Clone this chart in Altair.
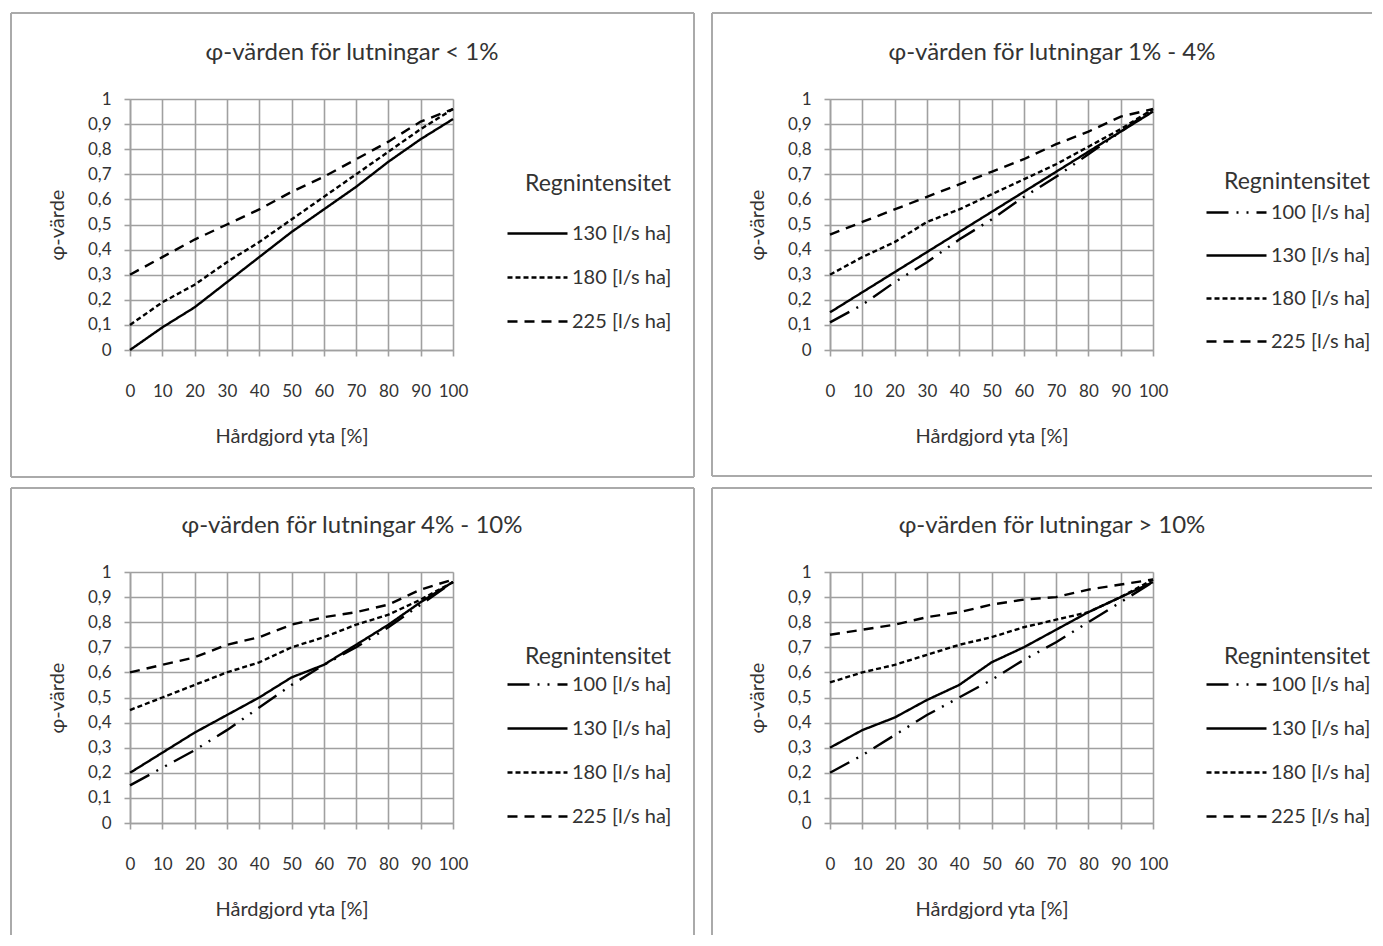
import altair as alt
import pandas as pd

X = [0, 10, 20, 30, 40, 50, 60, 70, 80, 90, 100]

TITLES = [
    "φ-värden för lutningar < 1%",
    "φ-värden för lutningar 1% - 4%",
    "φ-värden för lutningar  4% - 10%",
    "φ-värden för lutningar > 10%",
]

SERIES_LABELS = ["100 [l/s ha]", "130 [l/s ha]", "180 [l/s ha]", "225 [l/s ha]"]

# panel 1: < 1%
P1_130 = [0.00, 0.09, 0.17, 0.27, 0.37, 0.47, 0.56, 0.65, 0.75, 0.84, 0.92]
P1_180 = [0.10, 0.19, 0.26, 0.35, 0.43, 0.52, 0.61, 0.70, 0.79, 0.88, 0.96]
P1_225 = [0.30, 0.37, 0.44, 0.50, 0.56, 0.63, 0.69, 0.76, 0.83, 0.91, 0.96]

# panel 2: 1% - 4%
P2_100 = [0.11, 0.18, 0.27, 0.35, 0.44, 0.52, 0.61, 0.69, 0.78, 0.87, 0.96]
P2_130 = [0.15, 0.23, 0.31, 0.39, 0.47, 0.55, 0.63, 0.71, 0.79, 0.87, 0.95]
P2_180 = [0.30, 0.37, 0.43, 0.51, 0.56, 0.62, 0.68, 0.74, 0.81, 0.88, 0.96]
P2_225 = [0.46, 0.51, 0.56, 0.61, 0.66, 0.71, 0.76, 0.82, 0.87, 0.93, 0.96]

# panel 3: 4% - 10%
P3_100 = [0.15, 0.22, 0.29, 0.37, 0.46, 0.55, 0.63, 0.70, 0.78, 0.87, 0.96]
P3_130 = [0.20, 0.28, 0.36, 0.43, 0.50, 0.58, 0.63, 0.71, 0.79, 0.88, 0.96]
P3_180 = [0.45, 0.50, 0.55, 0.60, 0.64, 0.70, 0.74, 0.79, 0.83, 0.89, 0.96]
P3_225 = [0.60, 0.63, 0.66, 0.71, 0.74, 0.79, 0.82, 0.84, 0.87, 0.93, 0.97]

# panel 4: > 10%
P4_100 = [0.20, 0.27, 0.35, 0.43, 0.50, 0.57, 0.65, 0.72, 0.80, 0.88, 0.96]
P4_130 = [0.30, 0.37, 0.42, 0.49, 0.55, 0.64, 0.70, 0.77, 0.84, 0.90, 0.96]
P4_180 = [0.56, 0.60, 0.63, 0.67, 0.71, 0.74, 0.78, 0.81, 0.84, 0.90, 0.97]
P4_225 = [0.75, 0.77, 0.79, 0.82, 0.84, 0.87, 0.89, 0.90, 0.93, 0.95, 0.97]

DASHES = {
    "100 [l/s ha]": [22, 8, 2, 8, 2, 8],
    "130 [l/s ha]": [1, 0],
    "180 [l/s ha]": [5, 3],
    "225 [l/s ha]": [10, 7],
}

FONT = "Lato"
TXT = "#333333"
GRID = "#a0a0a0"
FRAME = "#aaaaaa"
W, H = 323, 251


def make_panel(title, series, frame, legend_x, legend_y, legend_title_pad, row_pad):
    rows = []
    for label, vals in series:
        for xv, yv in zip(X, vals):
            rows.append({"x": xv, "y": yv, "serie": label})
    df = pd.DataFrame(rows)
    labels = [s[0] for s in series]

    lines = alt.Chart(df).mark_line(color="black", strokeWidth=2.4).encode(
        x=alt.X(
            "x:Q",
            scale=alt.Scale(domain=[0, 100], nice=False),
            axis=alt.Axis(
                values=X, title="Hårdgjord yta [%]", grid=True, gridColor=GRID,
                gridWidth=1.6, domainColor=GRID, domainWidth=1.6, tickColor=GRID,
                tickWidth=1.6, tickSize=6, labelPadding=27, titlePadding=27,
                labelOverlap=False, labelFlush=False, labelFont=FONT, labelFontSize=17,
                labelColor=TXT, titleFont=FONT, titleFontSize=20,
                titleFontWeight="normal", titleColor=TXT,
            ),
        ),
        y=alt.Y(
            "y:Q",
            scale=alt.Scale(domain=[0, 1], nice=False),
            axis=alt.Axis(
                values=[0, 0.1, 0.2, 0.3, 0.4, 0.5, 0.6, 0.7, 0.8, 0.9, 1.0],
                labelExpr="datum.value == 0 ? '0' : datum.value == 1 ? '1' : replace(format(datum.value, '.1f'), '.', ',')",
                title="φ-värde", grid=True, gridColor=GRID, gridWidth=1.6,
                domainColor=GRID, domainWidth=1.6, tickColor=GRID, tickWidth=1.6,
                tickSize=6, labelPadding=13, labelFlush=False, titlePadding=20,
                labelFont=FONT, labelFontSize=17, labelColor=TXT,
                titleFont=FONT, titleFontSize=20, titleFontWeight="normal", titleColor=TXT,
            ),
        ),
        strokeDash=alt.StrokeDash(
            "serie:N",
            scale=alt.Scale(domain=labels, range=[DASHES[l] for l in labels]),
            sort=labels,
            legend=alt.Legend(
                title="Regnintensitet", orient="none", legendX=legend_x, legendY=legend_y,
                padding=0, symbolType="stroke", symbolSize=3600, symbolStrokeWidth=2.6,
                symbolStrokeColor="black", labelFont=FONT, labelFontSize=20,
                labelColor=TXT, labelOffset=3, titleFont=FONT, titleFontSize=23,
                titleFontWeight="normal", titleColor=TXT, titleAnchor="end",
                titlePadding=legend_title_pad, rowPadding=row_pad,
            ),
        ),
        order="x:Q",
    )

    deco = pd.DataFrame({"t": [title]})
    title_mark = alt.Chart(deco).mark_text(
        font=FONT, fontSize=24, color=TXT, align="center", baseline="middle"
    ).encode(text="t:N", x=alt.value(frame["title_x"]), y=alt.value(-46))

    layers = [lines, title_mark]
    fl, ft, fr, fb = frame["l"], frame["t"], frame["r"], frame["b"]
    base = alt.Chart(deco)
    layers.append(base.mark_rule(color=FRAME, strokeWidth=2).encode(
        x=alt.value(fl), y=alt.value(ft), y2=alt.value(fb)))
    layers.append(base.mark_rule(color=FRAME, strokeWidth=2).encode(
        x=alt.value(fl), x2=alt.value(fr), y=alt.value(ft)))
    if frame.get("right", True):
        layers.append(base.mark_rule(color=FRAME, strokeWidth=2).encode(
            x=alt.value(fr), y=alt.value(ft), y2=alt.value(fb)))
    if frame.get("bottom", True):
        layers.append(base.mark_rule(color=FRAME, strokeWidth=2).encode(
            x=alt.value(fl), x2=alt.value(fr), y=alt.value(fb)))

    return alt.layer(*layers).properties(width=W, height=H)


p1 = make_panel(
    TITLES[0],
    [(SERIES_LABELS[1], P1_130), (SERIES_LABELS[2], P1_180), (SERIES_LABELS[3], P1_225)],
    {"l": -119, "t": -86, "r": 564, "b": 378, "title_x": 222},
    376, 74, 6, 2,
)
p2 = make_panel(
    TITLES[1],
    [(SERIES_LABELS[0], P2_100), (SERIES_LABELS[1], P2_130),
     (SERIES_LABELS[2], P2_180), (SERIES_LABELS[3], P2_225)],
    {"l": -118, "t": -86, "r": 542, "b": 377, "title_x": 222, "right": False},
    375, 72, -13, 1,
)
p3 = make_panel(
    TITLES[2],
    [(SERIES_LABELS[0], P3_100), (SERIES_LABELS[1], P3_130),
     (SERIES_LABELS[2], P3_180), (SERIES_LABELS[3], P3_225)],
    {"l": -119, "t": -84, "r": 564, "b": 363, "title_x": 222, "bottom": False},
    376, 74, -16, 2,
)
p4 = make_panel(
    TITLES[3],
    [(SERIES_LABELS[0], P4_100), (SERIES_LABELS[1], P4_130),
     (SERIES_LABELS[2], P4_180), (SERIES_LABELS[3], P4_225)],
    {"l": -118, "t": -84, "r": 542, "b": 363, "title_x": 222, "right": False, "bottom": False},
    375, 74, -16, 2,
)

row1 = alt.hconcat(p1, p2, spacing=14).resolve_scale(strokeDash="independent").resolve_legend(strokeDash="independent")
row2 = alt.hconcat(p3, p4, spacing=14).resolve_scale(strokeDash="independent").resolve_legend(strokeDash="independent")

chart = alt.vconcat(row1, row2, spacing=7).resolve_scale(
    strokeDash="independent"
).resolve_legend(strokeDash="independent").properties(
    padding={"left": 1, "top": 3, "right": 0, "bottom": 0}
).configure_view(stroke=GRID, strokeWidth=1.6).configure(background="white")

chart.save("out.html", embed_options={"renderer": "svg", "actions": False})
